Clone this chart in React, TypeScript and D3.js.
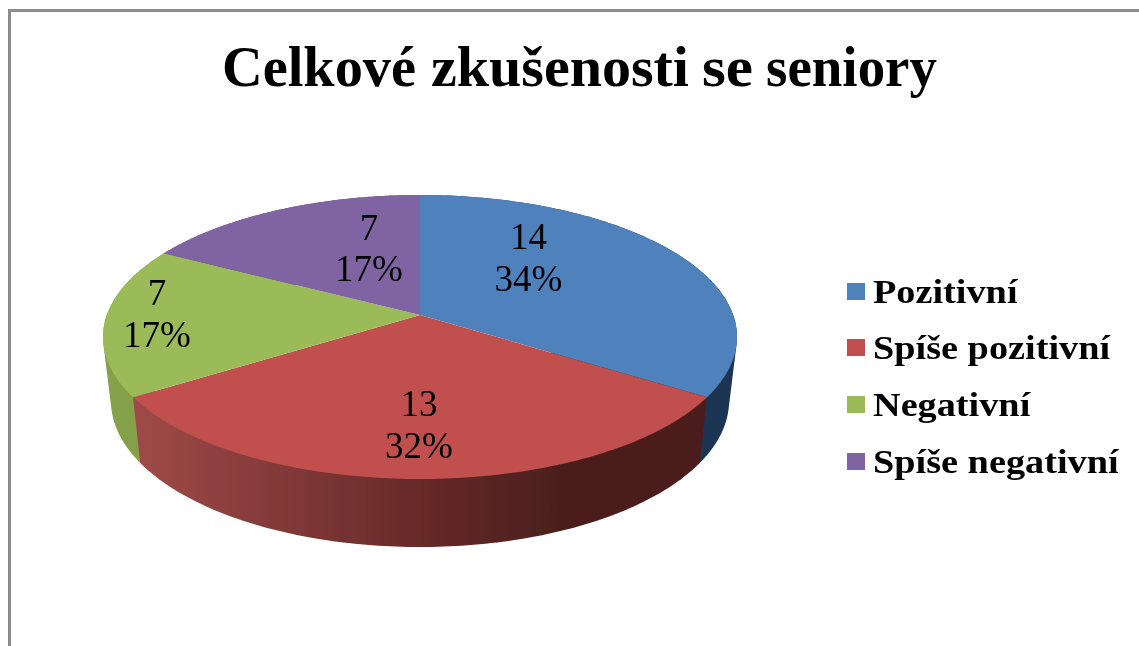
import React from "react";
import * as d3 from "d3";

const categories = ["Pozitivní", "Spíše pozitivní", "Negativní", "Spíše negativní"];
const values = [14, 13, 7, 7];
const percentLabels = ["34%", "32%", "17%", "17%"];
const topColors = ["#4f81bd", "#c0504d", "#9bbb59", "#8064a2"];
const sideColors = ["#1f3552", "url(#redSide)", "#84a04a", "#5f4a7a"];
const sidePaintOrder = [3, 0, 2, 1];
const labelAnchors = [
  [528.5, 239, 285],
  [419, 406, 452],
  [157, 295, 341],
  [369, 230, 275],
];
const legendRows = [292, 348, 405, 462];
const legendStretch = 1.16;
const titleWords = ["Celkové", "zkušenosti", "se", "seniory"];
const titleWordX = [222, 431, 702, 766];
const titleWordWidth = [194, 258, 51, 171];

const perspective = -22 / 142;
const topRim = { cx: 420, cy: 337, rx: 317, ry: 142 };
const bottomRim = { cx: 420, cy: 401, rx: 309, ry: 146 };

function project(angle: number, rim: typeof topRim): [number, number] {
  const x = Math.sin(angle);
  const y = -Math.cos(angle);
  const d = 1 + perspective * y;
  const X = (x * Math.sqrt(1 - perspective * perspective)) / d;
  const Y = (y + perspective) / d;
  return [rim.cx + rim.rx * X, rim.cy + rim.ry * Y];
}

export default function App() {
  const arcs = d3.pie<number>().sort(null)(values);
  const line = d3.line();
  const apex: [number, number] = [topRim.cx, topRim.cy + topRim.ry * perspective];
  const sample = (a: number, b: number) => d3.range(0, 121).map((i) => a + ((b - a) * i) / 120);

  return (
    <svg
      width={1139}
      height={646}
      style={{ position: "absolute", left: 0, top: 0, background: "#fff" }}
      fontFamily="'Liberation Serif', serif"
    >
      <defs>
        <linearGradient id="redSide" gradientUnits="userSpaceOnUse" x1={133} x2={707} y1={0} y2={0}>
          <stop offset="0" stopColor="#9f4a48" />
          <stop offset="0.517" stopColor="#652928" />
          <stop offset="0.743" stopColor="#4b1f1e" />
          <stop offset="1" stopColor="#4b1f1e" />
        </linearGradient>
        <filter id="soft" x="-5%" y="-5%" width="110%" height="110%">
          <feGaussianBlur stdDeviation="0.6" />
        </filter>
      </defs>

      <path d="M1139 10.5H9.5V646" fill="none" stroke="#8c8c8c" strokeWidth={3} />

      <g filter="url(#soft)">
        {sidePaintOrder.map((i) => {
          const a = arcs[i];
          const pts = sample(a.startAngle, a.endAngle);
          const hull = d3.polygonHull([
            ...pts.map((t) => project(t, topRim)),
            ...pts.map((t) => project(t, bottomRim)),
          ]) as [number, number][];
          return <path key={i} d={line(hull) + "Z"} fill={sideColors[i]} />;
        })}
        {arcs.map((a, i) => {
          const top = sample(a.startAngle, a.endAngle).map((t) => project(t, topRim));
          return <path key={i} d={line([apex, ...top]) + "Z"} fill={topColors[i]} />;
        })}
      </g>

      <g filter="url(#soft)">
        <text y={86} fontSize={57} fontWeight="bold">
          {titleWords.map((w, i) => (
            <tspan key={w} x={titleWordX[i]} textLength={titleWordWidth[i]} lengthAdjust="spacingAndGlyphs">
              {w}
            </tspan>
          ))}
        </text>
        {values.map((v, i) => (
          <g key={i} fontSize={37} textAnchor="middle" fill="#000">
            <text x={labelAnchors[i][0]} y={labelAnchors[i][1] + 10}>{v}</text>
            <text x={labelAnchors[i][0]} y={labelAnchors[i][2] + 6}>{percentLabels[i]}</text>
          </g>
        ))}
        {categories.map((c, i) => (
          <g key={c}>
            <rect x={847} y={legendRows[i] - 9} width={18} height={17} fill={topColors[i]} />
            <text
              transform={`translate(873 ${legendRows[i] + 11}) scale(${legendStretch} 1)`}
              fontSize={33}
              fontWeight="bold"
            >
              {c}
            </text>
          </g>
        ))}
      </g>
    </svg>
  );
}
